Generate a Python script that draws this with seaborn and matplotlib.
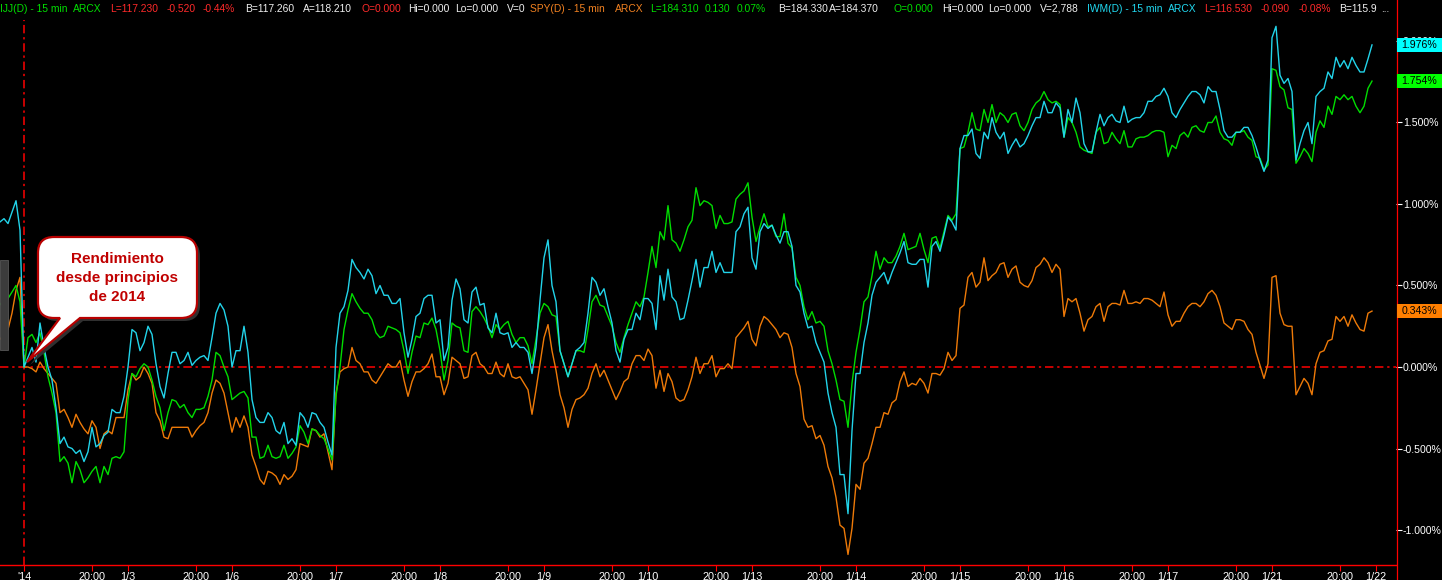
import numpy as np
import pandas as pd
import matplotlib
matplotlib.use("Agg")
import matplotlib.pyplot as plt
import seaborn as sns
from matplotlib.path import Path
from matplotlib.patches import PathPatch, Rectangle
from matplotlib.transforms import Affine2D, IdentityTransform
from matplotlib.lines import Line2D

plt.rcParams['font.family'] = ['Liberation Sans', 'DejaVu Sans']

# ---------------- data ----------------
first_bar = -6          # bars before the 2014 open (end of 2013)
bars_per_day = 26       # 15-min bars per session
start_label = "'14"
hour_label = "20:00"
day_labels = ["1/3", "1/6", "1/7", "1/8", "1/9", "1/10", "1/13",
              "1/14", "1/15", "1/16", "1/17", "1/21", "1/22"]
y_ticks = [-1.0, -0.5, 0.0, 0.5, 1.0, 1.5, 2.0]

# % return since start of 2014, one value per 15-min bar (from bar -6)
iwm_pct = [
    0.89, 0.91, 0.88, 0.95, 1.02, 0.84,
    0.00, 0.06, 0.12, 0.03, 0.27, 0.12, 0.00, -0.08, -0.25, -0.47,
    -0.43, -0.49, -0.50, -0.53, -0.51, -0.58, -0.52, -0.37, -0.49, -0.47,
    -0.42, -0.40, -0.26, -0.28, -0.28, -0.18, 0.00, 0.23, 0.21, 0.10,
    0.15, 0.25, 0.20, 0.02, -0.12, -0.19, -0.04, 0.09, 0.09, 0.02,
    0.04, 0.09, 0.01, 0.04, 0.06, 0.07, 0.04, 0.18, 0.33, 0.39,
    0.35, 0.25, 0.00, 0.10, 0.10, 0.25, 0.09, -0.20, -0.31, -0.34,
    -0.34, -0.28, -0.31, -0.39, -0.41, -0.34, -0.47, -0.44, -0.48, -0.28,
    -0.31, -0.37, -0.28, -0.29, -0.34, -0.37, -0.46, -0.54, 0.12, 0.33,
    0.37, 0.47, 0.66, 0.61, 0.58, 0.54, 0.60, 0.56, 0.45, 0.50,
    0.44, 0.44, 0.39, 0.39, 0.42, 0.21, 0.06, 0.17, 0.31, 0.33,
    0.42, 0.44, 0.44, 0.27, 0.29, 0.04, 0.12, 0.41, 0.54, 0.48,
    0.29, 0.27, 0.46, 0.49, 0.38, 0.39, 0.24, 0.21, 0.33, 0.21,
    0.20, 0.21, 0.12, 0.15, 0.12, 0.12, 0.09, -0.04, 0.12, 0.41,
    0.67, 0.78, 0.50, 0.40, 0.10, 0.02, -0.06, 0.02, 0.10, 0.12,
    0.15, 0.33, 0.55, 0.52, 0.44, 0.48, 0.37, 0.27, 0.10, 0.03,
    0.17, 0.23, 0.23, 0.33, 0.29, 0.42, 0.42, 0.39, 0.23, 0.56,
    0.41, 0.60, 0.43, 0.40, 0.29, 0.30, 0.41, 0.53, 0.66, 0.49,
    0.61, 0.61, 0.71, 0.58, 0.64, 0.58, 0.58, 0.58, 0.83, 0.86,
    0.94, 0.98, 0.67, 0.60, 0.83, 0.88, 0.85, 0.87, 0.81, 0.76,
    0.83, 0.83, 0.74, 0.50, 0.46, 0.33, 0.24, 0.25, 0.15, 0.09,
    0.03, -0.16, -0.28, -0.37, -0.66, -0.66, -0.90, -0.39, -0.04, -0.04,
    0.15, 0.27, 0.44, 0.52, 0.55, 0.58, 0.51, 0.58, 0.64, 0.70,
    0.77, 0.64, 0.63, 0.63, 0.66, 0.66, 0.49, 0.74, 0.77, 0.71,
    0.81, 0.92, 0.89, 0.84, 1.34, 1.42, 1.42, 1.46, 1.31, 1.28,
    1.44, 1.40, 1.53, 1.44, 1.40, 1.44, 1.31, 1.36, 1.40, 1.35,
    1.37, 1.42, 1.48, 1.53, 1.53, 1.63, 1.56, 1.56, 1.62, 1.59,
    1.41, 1.58, 1.50, 1.65, 1.56, 1.37, 1.32, 1.32, 1.44, 1.55,
    1.48, 1.53, 1.55, 1.51, 1.50, 1.60, 1.50, 1.52, 1.53, 1.53,
    1.56, 1.63, 1.63, 1.66, 1.67, 1.71, 1.66, 1.56, 1.53, 1.58,
    1.62, 1.66, 1.69, 1.69, 1.67, 1.62, 1.72, 1.69, 1.69, 1.58,
    1.45, 1.41, 1.41, 1.44, 1.44, 1.47, 1.47, 1.42, 1.35, 1.27,
    1.20, 1.27, 2.02, 2.09, 1.79, 1.74, 1.77, 1.69, 1.27, 1.37,
    1.45, 1.50, 1.37, 1.66, 1.69, 1.71, 1.81, 1.77, 1.90, 1.84,
    1.88, 1.83, 1.90, 1.85, 1.81, 1.81, 1.89, 1.976,
]

ijj_pct = [
    0.39, 0.36, 0.42, 0.46, 0.50, 0.40,
    0.00, 0.18, 0.20, 0.15, 0.21, 0.09, -0.06, -0.16, -0.28, -0.58,
    -0.55, -0.59, -0.71, -0.58, -0.63, -0.71, -0.68, -0.64, -0.61, -0.71,
    -0.61, -0.66, -0.56, -0.55, -0.56, -0.52, -0.20, -0.04, -0.06, -0.01,
    0.02, 0.00, -0.08, -0.18, -0.25, -0.39, -0.28, -0.20, -0.21, -0.25,
    -0.23, -0.28, -0.31, -0.26, -0.26, -0.25, -0.18, -0.08, 0.09, 0.07,
    0.00, -0.06, -0.20, -0.18, -0.16, -0.15, -0.19, -0.43, -0.43, -0.56,
    -0.55, -0.48, -0.55, -0.56, -0.55, -0.48, -0.56, -0.53, -0.49, -0.36,
    -0.40, -0.47, -0.38, -0.39, -0.42, -0.44, -0.50, -0.57, -0.18, 0.00,
    0.23, 0.35, 0.45, 0.40, 0.36, 0.33, 0.33, 0.29, 0.21, 0.18,
    0.19, 0.25, 0.24, 0.23, 0.21, 0.10, -0.04, 0.09, 0.19, 0.18,
    0.27, 0.26, 0.30, 0.23, 0.10, -0.08, 0.04, 0.27, 0.25, 0.24,
    0.10, 0.09, 0.34, 0.37, 0.34, 0.30, 0.25, 0.18, 0.26, 0.23,
    0.26, 0.28, 0.20, 0.15, 0.18, 0.18, 0.13, 0.02, 0.17, 0.33,
    0.39, 0.37, 0.32, 0.31, 0.10, 0.02, -0.06, 0.02, 0.10, 0.10,
    0.09, 0.23, 0.40, 0.44, 0.38, 0.37, 0.31, 0.25, 0.15, 0.09,
    0.18, 0.26, 0.33, 0.40, 0.37, 0.43, 0.58, 0.74, 0.61, 0.83,
    0.78, 0.99, 0.78, 0.76, 0.71, 0.78, 0.86, 0.90, 1.10, 0.99,
    1.02, 1.01, 0.99, 0.85, 0.93, 0.88, 0.88, 0.89, 1.03, 1.06,
    1.08, 1.13, 0.92, 0.77, 0.86, 0.94, 0.86, 0.87, 0.80, 0.80,
    0.94, 0.76, 0.73, 0.55, 0.50, 0.37, 0.29, 0.34, 0.27, 0.28,
    0.25, 0.10, 0.02, -0.08, -0.20, -0.21, -0.37, -0.10, 0.09, 0.23,
    0.40, 0.43, 0.56, 0.71, 0.60, 0.67, 0.64, 0.64, 0.68, 0.74,
    0.82, 0.72, 0.73, 0.74, 0.82, 0.72, 0.64, 0.79, 0.80, 0.73,
    0.83, 0.93, 0.90, 0.94, 1.34, 1.35, 1.44, 1.56, 1.46, 1.45,
    1.58, 1.50, 1.61, 1.50, 1.56, 1.54, 1.50, 1.55, 1.56, 1.48,
    1.45, 1.50, 1.58, 1.62, 1.64, 1.69, 1.64, 1.62, 1.63, 1.61,
    1.41, 1.53, 1.50, 1.44, 1.35, 1.33, 1.32, 1.31, 1.44, 1.47,
    1.37, 1.38, 1.44, 1.40, 1.37, 1.45, 1.35, 1.35, 1.40, 1.41,
    1.41, 1.42, 1.44, 1.45, 1.45, 1.44, 1.29, 1.36, 1.34, 1.42,
    1.44, 1.41, 1.47, 1.48, 1.45, 1.44, 1.50, 1.50, 1.54, 1.44,
    1.40, 1.39, 1.36, 1.44, 1.44, 1.45, 1.41, 1.39, 1.29, 1.28,
    1.21, 1.24, 1.83, 1.82, 1.72, 1.70, 1.59, 1.58, 1.25, 1.29,
    1.34, 1.31, 1.26, 1.44, 1.51, 1.47, 1.60, 1.55, 1.66, 1.64,
    1.67, 1.64, 1.66, 1.60, 1.56, 1.60, 1.71, 1.754,
]

spy_pct = [
    0.17, 0.20, 0.23, 0.33, 0.47, 0.55,
    0.00, 0.00, -0.01, -0.03, 0.03, -0.01, -0.04, -0.07, -0.10, -0.28,
    -0.26, -0.31, -0.37, -0.29, -0.34, -0.38, -0.41, -0.33, -0.37, -0.50,
    -0.41, -0.39, -0.41, -0.31, -0.31, -0.31, -0.14, -0.04, -0.08, -0.06,
    0.00, -0.04, -0.10, -0.28, -0.33, -0.43, -0.44, -0.37, -0.37, -0.37,
    -0.37, -0.37, -0.43, -0.39, -0.36, -0.34, -0.28, -0.16, -0.08, -0.10,
    -0.16, -0.28, -0.40, -0.31, -0.37, -0.30, -0.37, -0.54, -0.61, -0.69,
    -0.72, -0.64, -0.65, -0.67, -0.72, -0.66, -0.69, -0.67, -0.63, -0.47,
    -0.48, -0.49, -0.38, -0.39, -0.43, -0.41, -0.52, -0.63, -0.16, -0.03,
    -0.01, 0.00, 0.12, 0.04, 0.02, -0.03, -0.03, -0.08, -0.10, -0.06,
    -0.02, 0.02, 0.00, 0.00, 0.04, -0.08, -0.18, -0.09, -0.03, -0.03,
    -0.01, 0.02, 0.08, -0.06, -0.06, -0.17, -0.10, 0.06, 0.04, 0.02,
    -0.07, -0.06, 0.07, 0.09, 0.02, 0.00, -0.04, -0.04, 0.03, -0.04,
    -0.06, 0.02, -0.06, -0.07, -0.06, -0.10, -0.14, -0.29, -0.14, 0.02,
    0.18, 0.26, 0.10, -0.02, -0.17, -0.25, -0.37, -0.26, -0.20, -0.19,
    -0.17, -0.13, -0.04, 0.02, -0.06, -0.02, -0.08, -0.14, -0.20, -0.15,
    -0.09, -0.07, 0.02, 0.07, 0.07, 0.04, 0.11, 0.07, -0.13, -0.02,
    -0.15, -0.04, -0.09, -0.19, -0.21, -0.20, -0.14, -0.06, 0.06, -0.04,
    0.02, 0.02, 0.07, -0.06, -0.01, -0.01, 0.02, -0.01, 0.18, 0.21,
    0.24, 0.28, 0.17, 0.13, 0.25, 0.31, 0.29, 0.26, 0.23, 0.18,
    0.21, 0.20, 0.12, -0.04, -0.12, -0.32, -0.37, -0.36, -0.44, -0.42,
    -0.48, -0.61, -0.68, -0.80, -0.97, -0.99, -1.15, -0.99, -0.72, -0.75,
    -0.59, -0.56, -0.47, -0.37, -0.37, -0.28, -0.29, -0.22, -0.20, -0.09,
    -0.03, -0.12, -0.10, -0.11, -0.07, -0.10, -0.16, -0.04, -0.04, -0.05,
    -0.01, 0.09, 0.04, 0.07, 0.36, 0.38, 0.55, 0.58, 0.49, 0.52,
    0.67, 0.53, 0.56, 0.58, 0.63, 0.64, 0.55, 0.60, 0.62, 0.52,
    0.50, 0.49, 0.53, 0.61, 0.63, 0.67, 0.64, 0.58, 0.63, 0.60,
    0.31, 0.42, 0.40, 0.42, 0.33, 0.22, 0.29, 0.31, 0.37, 0.39,
    0.28, 0.37, 0.39, 0.39, 0.38, 0.47, 0.39, 0.39, 0.40, 0.39,
    0.42, 0.42, 0.41, 0.39, 0.37, 0.46, 0.32, 0.25, 0.28, 0.28,
    0.33, 0.37, 0.39, 0.39, 0.37, 0.40, 0.45, 0.47, 0.44, 0.37,
    0.27, 0.25, 0.23, 0.29, 0.29, 0.28, 0.23, 0.20, 0.09, 0.01,
    -0.07, 0.02, 0.55, 0.56, 0.33, 0.26, 0.25, 0.25, -0.17, -0.12,
    -0.07, -0.10, -0.17, 0.02, 0.09, 0.10, 0.16, 0.17, 0.31, 0.28,
    0.31, 0.25, 0.32, 0.27, 0.23, 0.22, 0.33, 0.343,
]

series = {"SPY": spy_pct, "IJJ": ijj_pct, "IWM": iwm_pct}
line_colors = {"SPY": "#EE7A08", "IJJ": "#00DD00", "IWM": "#22D4EA"}
box_colors = {"SPY": "#FF7F00", "IJJ": "#00FF00", "IWM": "#00FFFF"}

frames = []
for name, vals in series.items():
    frames.append(pd.DataFrame({
        "bar": first_bar + np.arange(len(vals)),
        "pct": vals,
        "serie": name,
    }))
df = pd.concat(frames, ignore_index=True)

# ---------------- figure ----------------
W, H = 1442, 580
fig = plt.figure(figsize=(W / 100, H / 100), dpi=100, facecolor="black")
ax_right_px, ax_bottom_px, ax_top_px = 1396, 565, 20
ax = fig.add_axes([0, (H - ax_bottom_px) / H, ax_right_px / W,
                   (ax_bottom_px - ax_top_px) / H])
ax.set_facecolor("black")

sns.lineplot(data=df, x="bar", y="pct", hue="serie",
             hue_order=["SPY", "IJJ", "IWM"], palette=line_colors,
             estimator=None, sort=False, linewidth=1.0, legend=False, ax=ax)

ax.set_xlim(-6, 343)
ax.set_ylim(-1.2147, 2.1288)
ax.set_xlabel("")
ax.set_ylabel("")

red = "#FF0000"
dash = (0, (5.5, 2.5, 1.5, 2.5))
ax.axhline(0, color=red, lw=1.1, ls=dash, zorder=1)
ax.axvline(0, color=red, lw=1.1, ls=dash, zorder=1)

for s in ["top", "left", "right"]:
    ax.spines[s].set_visible(False)
ax.spines["bottom"].set_color(red)
ax.spines["bottom"].set_linewidth(1.0)

# x ticks
xt, xl = [0], [start_label]
for k, lab in enumerate(day_labels, start=1):
    xt += [k * bars_per_day - 9, k * bars_per_day]
    xl += [hour_label, lab]
ax.set_xticks(xt)
ax.set_xticklabels(xl)
ax.tick_params(axis="x", direction="out", length=4, width=0.8, color=red,
               labelcolor="white", labelsize=7.8, pad=1)

# y ticks on the right
ax.yaxis.tick_right()
ax.set_yticks(y_ticks)
ax.set_yticklabels([f"{v:.3f}%" for v in y_ticks])
ax.tick_params(axis="y", direction="out", length=4, width=0.8, color="white",
               labelcolor="white", labelsize=7.6, pad=1)
ax.grid(False)

# right axis line across whole height
fig.add_artist(Line2D([ax_right_px + 0.5] * 2, [0, H], color=red, lw=0.9,
                      transform=IdentityTransform()))

fig.canvas.draw()

# value boxes at the right
for name, vals in series.items():
    v = vals[-1]
    yd = ax.transData.transform((0, v))[1]
    fig.add_artist(Rectangle((ax_right_px + 1, yd - 7), W - ax_right_px - 1, 14,
                             facecolor=box_colors[name], edgecolor="none",
                             transform=IdentityTransform(), zorder=5))
    fig.text((ax_right_px + 1 + W) / 2 / W, yd / H, f"{v:.3f}%", color="black",
             fontsize=7.6, ha="center", va="center", zorder=6)

# header line
header = [
    (0, "IJJ(D) - 15 min", "#00E000"), (73, "ARCX", "#00E000"),
    (110, "L=117.230", "#FF2A2A"), (167, "-0.520", "#FF2A2A"), (203, "-0.44%", "#FF2A2A"),
    (245, "B=117.260", "#F0F0F0"), (303, "A=118.210", "#F0F0F0"),
    (362, "O=0.000", "#FF2A2A"), (408, "Hi=0.000", "#F0F0F0"),
    (455, "Lo=0.000", "#F0F0F0"), (507, "V=0", "#F0F0F0"),
    (530, "SPY(D) - 15 min", "#F08020"), (615, "ARCX", "#F08020"),
    (650, "L=184.310", "#00E000"), (705, "0.130", "#00E000"), (737, "0.07%", "#00E000"),
    (778, "B=184.330", "#F0F0F0"), (829, "A=184.370", "#F0F0F0"),
    (894, "O=0.000", "#00E000"), (942, "Hi=0.000", "#F0F0F0"),
    (988, "Lo=0.000", "#F0F0F0"), (1040, "V=2,788", "#F0F0F0"),
    (1087, "IWM(D) - 15 min", "#20D8F0"), (1168, "ARCX", "#20D8F0"),
    (1204, "L=116.530", "#FF2A2A"), (1261, "-0.090", "#FF2A2A"), (1299, "-0.08%", "#FF2A2A"),
    (1339, "B=115.9", "#F0F0F0"), (1381, "...", "#F0F0F0"),
]
for xp, txt, col in header:
    fig.text(xp / W, 1 - 8.5 / H, txt, color=col, fontsize=7.4, ha="left", va="center")

# small grey tab on the left edge
fig.add_artist(Rectangle((0, H - 350), 8, 90, facecolor="#3c3c3c", edgecolor="#555555",
                         lw=0.6, transform=IdentityTransform(), zorder=2))

# callout bubble
to_disp = Affine2D().scale(1, -1).translate(0, H)
L, R, T, B, r = 38, 197, 237, 318, 16
verts = [(L + r, T), (R - r, T), (R, T), (R, T + r), (R, B - r), (R, B), (R - r, B),
         (80, B), (27, 362), (60, B), (L + r, B), (L, B), (L, B - r), (L, T + r),
         (L, T), (L + r, T), (L + r, T)]
C = Path
codes = [C.MOVETO, C.LINETO, C.CURVE3, C.CURVE3, C.LINETO, C.CURVE3, C.CURVE3,
         C.LINETO, C.LINETO, C.LINETO, C.LINETO, C.CURVE3, C.CURVE3, C.LINETO,
         C.CURVE3, C.CURVE3, C.CLOSEPOLY]
bubble = Path(verts, codes)
shadow = Path([(x + 3, y + 3) for x, y in verts], codes)
fig.add_artist(PathPatch(shadow, facecolor="#303030", edgecolor="none",
                         transform=to_disp + IdentityTransform(), zorder=3))
fig.add_artist(PathPatch(bubble, facecolor="white", edgecolor="#B80000", lw=1.6,
                         transform=to_disp + IdentityTransform(), zorder=4))
for yp, line in [(259, "Rendimiento"), (278, "desde principios"), (297, "de 2014")]:
    fig.text(117 / W, 1 - yp / H, line, color="#C00000", fontsize=11,
             fontweight="bold", ha="center", va="center", zorder=5)

fig.savefig("out.png", dpi=100, facecolor="black")
